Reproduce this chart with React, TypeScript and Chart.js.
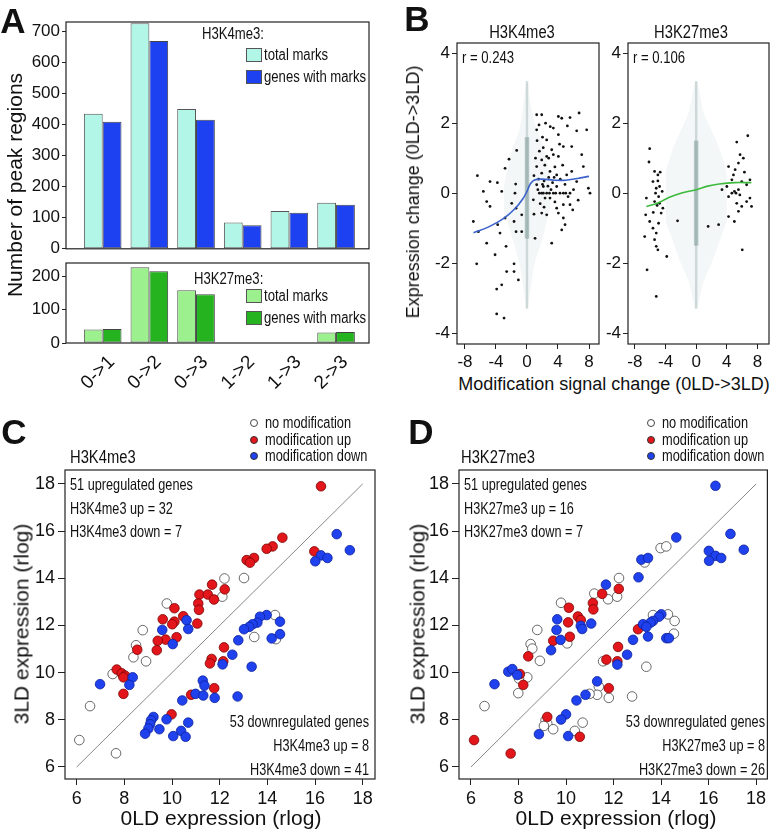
import React, { useEffect, useRef } from 'react';
import { Chart, registerables } from 'chart.js';

Chart.register(...registerables);

const REG = "'Liberation Sans', Arial, Helvetica, sans-serif";
Chart.defaults.font.family = REG;
Chart.defaults.color = '#111';

// ---------------- Panel A data ----------------
const A_CATEGORIES = ['0->1', '0->2', '0->3', '1->2', '1->3', '2->3'];
const A_K4_TOTAL = [435, 726, 450, 85, 122, 148];
const A_K4_GENES = [409, 669, 415, 76, 116, 142];
const A_K27_TOTAL = [41, 228, 159, 0, 0, 32];
const A_K27_GENES = [42, 216, 147, 0, 0, 33];
const A_K4_YTICKS = [0, 100, 200, 300, 400, 500, 600, 700];
const A_K27_YTICKS = [0, 100, 200];

// ---------------- Panel B data ----------------
const B_XTICKS = [-8, -4, 0, 4, 8];
const B_YTICKS = [-4, -2, 0, 2, 4];
const B_K4_POINTS = [
  [-6.4, 0.5], [-4.77, 0.33], [-3.82, 0.3], [-2.83, 0.71], [-2.32, 0.97], [-1.46, 0.26], [-1.33, 1.22],
  [-3.26, 0.05], [-5.63, 0.05], [1.25, 2.24], [1.9, 2.24], [1.25, 1.81], [1.55, 1.95], [2.54, 1.52],
  [4.05, 2.19], [4.48, 2.14], [5.55, 2.16], [6.72, 2.29], [7.7, 1.81], [6.41, 1.78], [5.21, 1.92],
  [3.4, 1.86], [4.05, 1.67], [3.19, 1.24], [4.69, 1.33], [5.77, 1.33], [7.06, 1.1], [7.27, 0.76],
  [4.05, 1.05], [1.9, 0.95], [2.54, 1.05], [1.25, 0.76], [1.9, 0.57], [2.97, 0.62], [3.83, 0.52],
  [5.12, 0.52], [5.77, 0.62], [6.41, 0.33], [7.92, 0.14], [2.11, 0.19], [1.25, 0.24], [3.83, 0.19],
  [4.69, 0.0], [1.9, 0.0], [2.54, 0.0], [3.4, 0.0], [4.26, 0.0], [5.55, 0.0], [-1.55, 0.0],
  [-6.92, -0.81], [-6.27, -1.1], [-5.2, -0.24], [-4.77, -0.38], [-5.2, -1.43], [-6.49, -2.02],
  [-4.12, -1.76], [-3.78, -0.9], [-3.48, -1.14], [-2.83, -0.71], [-2.7, -1.52], [-2.62, -2.24],
  [-3.91, -2.74], [-3.26, -2.62], [-3.91, -3.45], [-2.96, -3.57], [-1.67, -2.02], [-1.67, -2.24],
  [-1.11, -2.48], [-1.67, -0.81], [-1.41, -1.1], [-0.68, -0.62], [-0.68, -1.1], [-1.41, -0.43],
  [-1.97, -0.29], [0.82, -0.19], [2.11, 0.0], [2.33, -0.14], [2.97, -0.14], [3.83, -0.43],
  [4.69, -0.33], [5.55, -0.33], [1.9, -0.57], [2.54, -0.62], [4.05, -0.57], [4.69, -0.71],
  [4.48, -1.05], [4.91, -0.9], [3.19, -1.43], [1.04, -1.29], [5.9, -0.48], [8.13, 0.0],
  [1.5, 0.4], [2.2, 0.35], [2.8, 0.45], [3.3, 0.3], [3.6, 0.75], [2.3, 0.8], [1.6, 1.2], [2.0, 1.6],
  [2.8, 1.0], [3.1, 0.1], [1.4, 0.1], [2.7, 0.2], [3.6, -0.25], [4.3, 0.4], [4.9, 0.25], [5.3, -0.1],
  [6.0, 0.1], [1.7, -0.3], [2.2, -0.4], [1.3, 1.5], [2.4, 2.0], [3.0, 1.9], [4.6, 0.8], [0.9, 0.5],
  [0.9, -0.6], [6.6, -0.2], [1.6, 0.0], [2.9, 0.0], [3.7, 0.0], [5.0, 0.0], [2.0, 0.25], [3.5, 0.45],
  [1.1, 1.0], [2.1, 1.3], [3.4, 1.1], [4.2, 1.4],
];
const B_K4_FIT = [[-6.9, -1.13], [-5, -0.97], [-3, -0.72], [-1.5, -0.43], [-0.5, -0.15], [0, 0.05], [0.4, 0.25], [0.9, 0.37], [2, 0.4], [3.5, 0.37], [5, 0.37], [6.5, 0.42], [8, 0.48]];
const B_K4_CLOUD_X = [-3, -2, -1, -0.5, 0, 0.5, 1, 2, 3];
const B_K4_CLOUD_HI = [0.2, 1.2, 1.8, 2.5, 3.2, 2.5, 2.0, 1.4, 0.5];
const B_K4_CLOUD_LO = [-0.5, -1.2, -2.0, -2.7, -3.3, -2.7, -2.0, -1.3, -0.4];
const B_K4_COLUMN = [-3.3, 3.2];
const B_K4_CORE = [-1.3, 1.6];

const B_K27_POINTS = [
  [-6.07, 1.27], [-6.16, 0.89], [-5.43, 0.62], [-5.0, 0.52], [-5.64, 0.33], [-5.21, 0.14], [-4.78, 0.19],
  [-4.44, 0.05], [6.74, 1.64], [5.3, 1.46], [5.73, 1.1], [6.16, 1.0], [5.52, 0.86], [5.09, 0.67],
  [4.87, 0.52], [4.23, 0.76], [4.66, 0.38], [5.95, 0.33], [6.59, 0.24], [7.02, 0.38], [5.52, 0.1],
  [4.01, 0.19], [3.37, 0.1], [-6.5, -0.14], [-6.59, -0.62], [-6.07, -0.81], [-6.72, -1.24],
  [-5.64, -1.0], [-5.21, -1.14], [-5.43, -1.33], [-5.21, -1.52], [-5.0, -1.62], [-4.78, -0.29],
  [-4.35, -0.43], [-4.57, -0.57], [-5.43, -0.24], [-4.91, -0.86], [-6.41, -2.19], [-3.84, -1.81],
  [-5.21, -2.95], [-2.43, -0.79], [1.56, -0.95], [2.93, -0.9], [4.99, -0.81], [6.02, -1.62],
  [5.3, -0.29], [5.95, -0.38], [6.59, -0.24], [7.02, -0.14], [5.52, -0.52], [4.23, -0.1], [4.66, 0.0],
  [7.23, -0.38], [4.23, -0.67], [-5.3, 0.0], [-5.1, -0.35], [-4.9, -0.1], [-5.6, -0.55], [-5.0, 0.35],
  [-4.7, 0.6], [5.0, 0.05], [5.2, 0.0], [6.3, 0.6], [5.7, -0.05],
];
const B_K27_FIT = [[-6.5, -0.38], [-5, -0.28], [-3.5, -0.12], [-2, 0.0], [0, 0.1], [1.5, 0.2], [3, 0.26], [5, 0.3], [7.2, 0.3]];
const B_K27_CLOUD_X = [-4, -3, -2, -1, 0, 1, 2, 3, 4];
const B_K27_CLOUD_HI = [0.6, 1.3, 1.8, 2.3, 3.2, 2.3, 1.8, 1.3, 0.6];
const B_K27_CLOUD_LO = [-0.8, -1.4, -2.0, -2.5, -3.3, -2.5, -2.0, -1.4, -0.8];
const B_K27_COLUMN = [-3.3, 3.2];
const B_K27_CORE = [-1.5, 1.5];

// ---------------- Panels C / D data ----------------
const CD_TICKS = [6, 8, 10, 12, 14, 16, 18];
const DIAGONAL = [6, 18];

const C_NONE = [[12.2, 13.99], [13.02, 14.01], [12.11, 13.22], [9.78, 12.93], [8.77, 11.8], [8.49, 11.16], [8.38, 10.65], [8.91, 10.48], [7.51, 9.94], [6.56, 8.58], [6.11, 7.14], [7.65, 6.58], [14.32, 12.44], [13.45, 11.51], [14.36, 11.42]];
const C_UP = [[16.25, 17.9], [15.97, 15.14], [14.63, 15.72], [14.22, 15.35], [13.97, 15.25], [13.44, 14.86], [13.13, 14.77], [13.27, 14.66], [11.68, 13.73], [12.21, 13.53], [11.15, 13.31], [11.5, 13.31], [11.76, 13.1], [11.1, 12.93], [11.13, 12.66], [10.1, 12.73], [10.47, 12.39], [9.61, 12.26], [10.1, 12.16], [10.01, 12.05], [11.06, 12.08], [10.19, 11.5], [9.73, 11.4], [9.4, 11.35], [9.36, 10.95], [8.54, 10.97], [7.68, 10.13], [7.89, 9.97], [8.03, 9.87], [7.96, 9.8], [7.96, 9.1], [12.18, 11.07], [11.66, 10.58], [11.59, 10.39], [12.15, 10.48], [11.77, 9.34], [10.8, 9.06], [9.98, 8.23]];
const C_DOWN = [[16.91, 15.87], [17.46, 15.19], [16.25, 14.97], [16.52, 14.86], [16.01, 14.72], [10.61, 12.22], [10.68, 11.85], [9.59, 11.81], [10.03, 11.21], [8.35, 9.8], [8.21, 9.48], [6.98, 9.51], [13.97, 12.44], [13.69, 12.37], [13.58, 12.12], [13.38, 12.05], [13.24, 11.94], [13.02, 11.84], [14.53, 12.16], [14.53, 11.63], [14.18, 11.45], [12.78, 11.37], [12.53, 10.76], [12.12, 10.35], [13.34, 10.25], [11.29, 9.66], [11.36, 9.45], [10.99, 9.1], [11.31, 9.03], [11.79, 8.93], [12.75, 8.99], [10.43, 8.82], [9.77, 8.02], [9.22, 8.12], [9.12, 7.98], [9.08, 7.81], [9.01, 7.63], [8.87, 7.41], [9.47, 7.6], [10.68, 7.88], [10.38, 7.53], [10.05, 7.31], [10.57, 7.28]];

const D_NONE = [[12.23, 14.01], [11.19, 13.35], [11.77, 13.11], [12.15, 13.22], [9.79, 12.96], [8.79, 11.81], [10.05, 11.24], [8.51, 11.21], [8.58, 11.02], [8.9, 10.5], [8.37, 9.8], [8.02, 9.75], [7.99, 9.13], [6.57, 8.58], [13.98, 15.28], [14.22, 15.35], [13.31, 14.67], [13.66, 12.44], [14.29, 12.47], [14.57, 12.19], [14.54, 11.65], [11.56, 10.48], [13.38, 10.25], [11.38, 9.41], [11.31, 9.06], [11.8, 8.93], [12.78, 8.99], [10.99, 9.1], [9.14, 7.98], [9.21, 7.84], [9.07, 7.74], [9.46, 7.6], [10.7, 7.88], [10.37, 7.53]];
const D_UP = [[12.22, 13.55], [11.52, 13.34], [11.13, 12.95], [11.15, 12.68], [10.12, 12.75], [10.5, 12.38], [10.62, 12.23], [10.09, 12.13], [10.16, 11.52], [9.46, 11.35], [8.41, 10.69], [8.06, 9.94], [8.2, 9.48], [6.13, 7.14], [13.03, 11.84], [12.19, 11.09], [11.7, 10.55], [12.16, 10.48], [11.8, 9.34], [9.21, 8.12], [10.58, 7.28], [7.67, 6.57]];
const D_DOWN = [[16.29, 17.92], [11.68, 13.73], [13.05, 14.04], [9.63, 12.26], [9.6, 11.81], [10.62, 11.98], [10.68, 11.85], [11.06, 12.08], [9.77, 11.39], [9.37, 10.95], [7.57, 10.04], [7.74, 10.15], [7.95, 9.9], [6.99, 9.51], [13.17, 14.79], [13.45, 14.86], [14.64, 15.73], [16.92, 15.88], [17.48, 15.21], [16.01, 15.16], [16.29, 14.95], [16.53, 14.86], [16.02, 14.74], [14.01, 12.47], [13.91, 12.37], [13.66, 12.19], [13.56, 12.12], [13.24, 12.05], [13.38, 11.94], [13.45, 11.53], [14.22, 11.46], [14.33, 11.46], [12.82, 11.39], [12.57, 10.76], [12.16, 10.34], [11.31, 9.63], [10.82, 9.06], [10.44, 8.82], [10.0, 8.23], [9.79, 8.01], [8.86, 7.39], [10.09, 7.31]];

// ---------------- colours ----------------
const CYAN = '#b2f6e8';
const BLUE_BAR = '#1d40f0';
const LGREEN = '#9cf08e';
const DGREEN = '#25b320';
const RED_PT = '#e3161b';
const BLUE_PT = '#1f42ee';

// ---------------- helpers ----------------
type Box = { l: number; t: number; r: number; b: number };

const framePlugin = {
  id: 'frameBox',
  afterDraw(chart: any) {
    const { ctx, chartArea: a } = chart;
    ctx.save();
    ctx.strokeStyle = '#222';
    ctx.lineWidth = 1.2;
    ctx.strokeRect(a.left, a.top, a.right - a.left, a.bottom - a.top);
    ctx.restore();
  },
};

function axis(o: {
  min: number; max: number; ticks: number[]; size: number; horizontal: boolean;
  tickLen: number; labelPad: number; font: number; labels?: (v: number) => string;
  showLabels?: boolean; drawTicks?: boolean; rotation?: number; labelOffset?: number;
}) {
  return {
    type: 'linear',
    min: o.min,
    max: o.max,
    offset: false,
    afterBuildTicks: (s: any) => { s.ticks = o.ticks.map((v) => ({ value: v })); },
    afterFit: (s: any) => { if (o.horizontal) s.height = o.size; else s.width = o.size; },
    grid: {
      display: o.drawTicks !== false, drawOnChartArea: false, drawTicks: o.drawTicks !== false,
      tickLength: o.tickLen, color: '#222', lineWidth: 1, offset: false,
    },
    border: { display: false },
    ticks: {
      display: o.showLabels !== false, padding: o.labelPad, color: '#111', autoSkip: false,
      font: { family: REG, size: o.font },
      maxRotation: o.rotation ?? 0, minRotation: o.rotation ?? 0, labelOffset: o.labelOffset ?? 0,
      callback: (v: number) => (o.labels ? o.labels(v) : String(v)),
    },
  };
}

function baseOptions(padT: number, padR: number) {
  return {
    responsive: false,
    animation: false,
    events: [],
    layout: { padding: { left: 0, top: padT, right: padR, bottom: 0 } },
    plugins: { legend: { display: false }, tooltip: { enabled: false } },
  };
}

function PlotCanvas({ box, pad, build }: { box: Box; pad: Box; build: () => any }) {
  const ref = useRef<HTMLCanvasElement | null>(null);
  useEffect(() => {
    const chart = new Chart(ref.current as HTMLCanvasElement, build());
    return () => chart.destroy();
  }, []);
  const w = box.r - box.l + pad.l + pad.r;
  const h = box.b - box.t + pad.t + pad.b;
  return (
    <canvas
      ref={ref}
      width={w}
      height={h}
      style={{ position: 'absolute', left: box.l - pad.l, top: box.t - pad.t, width: w, height: h }}
    />
  );
}

type TxtProps = { x: number; y: number; s: number; t: string; a?: 'l' | 'c' | 'r'; rot?: number; b?: boolean; k?: number };
function Txt({ x, y, s, t, a = 'c', rot = 0, b = false, k = 0.82 }: TxtProps) {
  const tx = a === 'l' ? '0' : a === 'r' ? '-100%' : '-50%';
  const origin = a === 'l' ? 'left center' : a === 'r' ? 'right center' : 'center';
  return (
    <div
      style={{
        position: 'absolute', left: x, top: y,
        transform: `translate(${tx},-50%)${rot ? ` rotate(${rot}deg)` : ''}${k !== 1 ? ` scaleX(${k})` : ''}`,
        transformOrigin: origin,
        fontSize: s, fontFamily: REG, fontWeight: b ? 700 : 400, lineHeight: 1,
        whiteSpace: 'nowrap', color: '#111',
      }}
    >
      {t}
    </div>
  );
}

function Swatch({ x, y, w, h, c }: { x: number; y: number; w: number; h: number; c: string }) {
  return <div style={{ position: 'absolute', left: x, top: y, width: w, height: h, background: c, border: '1px solid #555', boxSizing: 'border-box' }} />;
}

function Dot({ x, y, c, open }: { x: number; y: number; c: string; open?: boolean }) {
  return (
    <div
      style={{
        position: 'absolute', left: x - 4, top: y - 4, width: 8, height: 8, borderRadius: '50%',
        background: open ? '#fff' : c, border: `1px solid ${open ? '#444' : '#333'}`, boxSizing: 'border-box',
      }}
    />
  );
}

const pts = (arr: number[][]) => arr.map(([x, y]) => ({ x, y }));

// ---------------- chart builders ----------------
const A_UP_BOX: Box = { l: 66, t: 22, r: 369, b: 258 };
const A_UP_PAD: Box = { l: 60, t: 16, r: 4, b: 3 };
const A_LO_BOX: Box = { l: 66, t: 263, r: 369, b: 343 };
const A_LO_PAD: Box = { l: 60, t: 16, r: 6, b: 48 };

function barConfig(total: number[], genes: number[], cTotal: string, cGenes: string, yMax: number, yTicks: number[], pad: Box, showX: boolean) {
  const bw = (c: any) => (c.raw && c.raw.y === 0 ? 0 : 1);
  return {
    type: 'bar',
    data: {
      datasets: [
        { data: total.map((v, i) => ({ x: i, y: v })), backgroundColor: cTotal, borderColor: '#555', borderWidth: bw, categoryPercentage: 0.806, barPercentage: 1, borderSkipped: false },
        { data: genes.map((v, i) => ({ x: i, y: v })), backgroundColor: cGenes, borderColor: '#444', borderWidth: bw, categoryPercentage: 0.806, barPercentage: 1, borderSkipped: false },
      ],
    },
    options: {
      ...baseOptions(pad.t, pad.r),
      scales: {
        x: axis({
          min: -0.786, max: 5.706, ticks: [0, 1, 2, 3, 4, 5], size: pad.b, horizontal: true,
          tickLen: 0, labelPad: 8, font: 19, labels: (v) => A_CATEGORIES[v] ?? '',
          showLabels: showX, drawTicks: false, rotation: 45, labelOffset: 9,
        }),
        y: axis({ min: 0, max: yMax, ticks: yTicks, size: pad.l, horizontal: false, tickLen: 4, labelPad: 2, font: 17 }),
      },
    },
    plugins: [framePlugin],
  };
}

const B_L_BOX: Box = { l: 457, t: 43, r: 599, b: 344 };
const B_L_PAD: Box = { l: 40, t: 18, r: 6, b: 30 };
const B_R_BOX: Box = { l: 628, t: 43, r: 771, b: 344 };
const B_R_PAD: Box = { l: 30, t: 18, r: 2, b: 30 };

function bConfig(points: number[][], fit: number[][], fitColor: string, cx: number[], hi: number[], lo: number[], col: number[], core: number[], xr: [number, number], pad: Box) {
  const line = (data: any[], color: string, width: number, extra: any = {}) => ({
    data, showLine: true, borderColor: color, borderWidth: width, pointRadius: 0, fill: false, ...extra,
  });
  return {
    type: 'scatter',
    data: {
      datasets: [
        line(pts(fit), fitColor, 1.6, { tension: 0.4 }),
        { data: pts(points), pointRadius: 1.4, pointBackgroundColor: '#111', pointBorderWidth: 0 },
        line([{ x: 0, y: core[0] }, { x: 0, y: core[1] }], 'rgba(120,150,150,0.5)', 4.5),
        line([{ x: 0, y: col[0] }, { x: 0, y: col[1] }], 'rgba(150,170,170,0.4)', 2.5),
        line(cx.map((x, i) => ({ x, y: hi[i] })), 'rgba(0,0,0,0)', 0, { tension: 0.3 }),
        line(cx.map((x, i) => ({ x, y: lo[i] })), 'rgba(0,0,0,0)', 0, { tension: 0.3, fill: '-1', backgroundColor: 'rgba(180,195,195,0.14)' }),
      ],
    },
    options: {
      ...baseOptions(pad.t, pad.r),
      scales: {
        x: axis({ min: xr[0], max: xr[1], ticks: B_XTICKS, size: pad.b, horizontal: true, tickLen: 5, labelPad: 3, font: 17 }),
        y: axis({ min: -4.31, max: 4.29, ticks: B_YTICKS, size: pad.l, horizontal: false, tickLen: 5, labelPad: 2, font: 17 }),
      },
    },
    plugins: [framePlugin],
  };
}

const C_BOX: Box = { l: 65, t: 470, r: 375, b: 779 };
const C_PAD: Box = { l: 55, t: 18, r: 12, b: 32 };
const D_BOX: Box = { l: 459, t: 470, r: 768, b: 779 };
const D_PAD: Box = { l: 45, t: 18, r: 5, b: 32 };

function cdConfig(none: number[][], up: number[][], down: number[][], xr: [number, number], pad: Box) {
  const ptSet = (arr: number[][], bg: string, border: string) => ({
    data: pts(arr), pointRadius: 4.8, pointBackgroundColor: bg, pointBorderColor: border, pointBorderWidth: 0.8,
  });
  return {
    type: 'scatter',
    data: {
      datasets: [
        ptSet(down, BLUE_PT, '#0c1f9a'),
        ptSet(up, RED_PT, '#7a0505'),
        ptSet(none, '#ffffff', '#444'),
        { data: [{ x: DIAGONAL[0], y: DIAGONAL[0] }, { x: DIAGONAL[1], y: DIAGONAL[1] }], showLine: true, borderColor: '#888', borderWidth: 1, pointRadius: 0 },
      ],
    },
    options: {
      ...baseOptions(pad.t, pad.r),
      scales: {
        x: axis({ min: xr[0], max: xr[1], ticks: CD_TICKS, size: pad.b, horizontal: true, tickLen: 6, labelPad: 3, font: 18 }),
        y: axis({ min: 5.49, max: 18.59, ticks: CD_TICKS, size: pad.l, horizontal: false, tickLen: 7, labelPad: 3, font: 18 }),
      },
    },
    plugins: [framePlugin],
  };
}

const IN_S = 16.5;
const IN_K = 0.77;
const LG_S = 16;
const LG_K = 0.8;

export default function App() {
  return (
    <div style={{ position: 'absolute', left: 0, top: 0, width: 773, height: 831, overflow: 'hidden', background: '#fff' }}>
      {/* Panel A */}
      <PlotCanvas box={A_UP_BOX} pad={A_UP_PAD} build={() => barConfig(A_K4_TOTAL, A_K4_GENES, CYAN, BLUE_BAR, 730, A_K4_YTICKS, A_UP_PAD, false)} />
      <PlotCanvas box={A_LO_BOX} pad={A_LO_PAD} build={() => barConfig(A_K27_TOTAL, A_K27_GENES, LGREEN, DGREEN, 241, A_K27_YTICKS, A_LO_PAD, true)} />
      <Txt x={13} y={20} s={35} t="A" b k={1} />
      <Txt x={14} y={185} s={21} t="Number of peak regions" rot={-90} k={1} />
      <Txt x={202} y={34} s={16} t="H3K4me3:" a="l" />
      <Swatch x={246} y={48} w={16} h={14} c={CYAN} />
      <Txt x={264} y={55} s={16} t="total marks" a="l" />
      <Swatch x={246} y={70} w={16} h={14} c={BLUE_BAR} />
      <Txt x={264} y={77} s={16} t="genes with marks" a="l" />
      <Txt x={194} y={279} s={16} t="H3K27me3:" a="l" />
      <Swatch x={246} y={289} w={16} h={14} c={LGREEN} />
      <Txt x={264} y={296} s={16} t="total marks" a="l" />
      <Swatch x={246} y={311} w={16} h={14} c={DGREEN} />
      <Txt x={264} y={318} s={16} t="genes with marks" a="l" />

      {/* Panel B */}
      <PlotCanvas box={B_L_BOX} pad={B_L_PAD} build={() => bConfig(B_K4_POINTS, B_K4_FIT, '#3a62cc', B_K4_CLOUD_X, B_K4_CLOUD_HI, B_K4_CLOUD_LO, B_K4_COLUMN, B_K4_CORE, [-9.03, 9.29], B_L_PAD)} />
      <PlotCanvas box={B_R_BOX} pad={B_R_PAD} build={() => bConfig(B_K27_POINTS, B_K27_FIT, '#3dba3d', B_K27_CLOUD_X, B_K27_CLOUD_HI, B_K27_CLOUD_LO, B_K27_COLUMN, B_K27_CORE, [-8.9, 9.51], B_R_PAD)} />
      <Txt x={417} y={18} s={35} t="B" b k={1} />
      <Txt x={522} y={32} s={18} t="H3K4me3" />
      <Txt x={691} y={32} s={18} t="H3K27me3" />
      <Txt x={462} y={58} s={16} t="r = 0.243" a="l" />
      <Txt x={633} y={58} s={16} t="r = 0.106" a="l" />
      <Txt x={413} y={192} s={18} t="Expression change (0LD->3LD)" rot={-90} k={1} />
      <Txt x={614} y={384} s={18} t="Modification signal change (0LD->3LD)" k={1} />

      {/* Panel C */}
      <PlotCanvas box={C_BOX} pad={C_PAD} build={() => cdConfig(C_NONE, C_UP, C_DOWN, [5.509, 18.516], C_PAD)} />
      <Txt x={14} y={431} s={35} t="C" b k={1} />
      <Txt x={70} y={457} s={18} t="H3K4me3" a="l" />
      <Dot x={254} y={423} c="#fff" open />
      <Txt x={265} y={423} s={LG_S} k={LG_K} t="no modification" a="l" />
      <Dot x={254} y={440} c={RED_PT} />
      <Txt x={265} y={440} s={LG_S} k={LG_K} t="modification up" a="l" />
      <Dot x={254} y={456} c={BLUE_PT} />
      <Txt x={265} y={456} s={LG_S} k={LG_K} t="modification down" a="l" />
      <Txt x={70} y={484} s={IN_S} k={IN_K} t="51 upregulated genes" a="l" />
      <Txt x={70} y={508} s={IN_S} k={IN_K} t="H3K4me3 up = 32" a="l" />
      <Txt x={70} y={531} s={IN_S} k={IN_K} t="H3K4me3 down = 7" a="l" />
      <Txt x={369} y={721} s={IN_S} k={IN_K} t="53 downregulated genes" a="r" />
      <Txt x={369} y={745} s={IN_S} k={IN_K} t="H3K4me3 up = 8" a="r" />
      <Txt x={369} y={769} s={IN_S} k={IN_K} t="H3K4me3 down = 41" a="r" />
      <Txt x={21} y={624} s={21} t="3LD expression (rlog)" rot={-90} k={1} />
      <Txt x={221} y={817} s={21} t="0LD expression (rlog)" k={1} />

      {/* Panel D */}
      <PlotCanvas box={D_BOX} pad={D_PAD} build={() => cdConfig(D_NONE, D_UP, D_DOWN, [5.496, 18.475], D_PAD)} />
      <Txt x={421} y={431} s={35} t="D" b k={1} />
      <Txt x={461} y={457} s={18} t="H3K27me3" a="l" />
      <Dot x={651} y={423} c="#fff" open />
      <Txt x={662} y={423} s={LG_S} k={LG_K} t="no modification" a="l" />
      <Dot x={651} y={440} c={RED_PT} />
      <Txt x={662} y={440} s={LG_S} k={LG_K} t="modification up" a="l" />
      <Dot x={651} y={456} c={BLUE_PT} />
      <Txt x={662} y={456} s={LG_S} k={LG_K} t="modification down" a="l" />
      <Txt x={464} y={484} s={IN_S} k={IN_K} t="51 upregulated genes" a="l" />
      <Txt x={464} y={508} s={IN_S} k={IN_K} t="H3K27me3 up = 16" a="l" />
      <Txt x={464} y={531} s={IN_S} k={IN_K} t="H3K27me3 down = 7" a="l" />
      <Txt x={765} y={721} s={IN_S} k={IN_K} t="53 downregulated genes" a="r" />
      <Txt x={765} y={745} s={IN_S} k={IN_K} t="H3K27me3 up = 8" a="r" />
      <Txt x={765} y={769} s={IN_S} k={IN_K} t="H3K27me3 down = 26" a="r" />
      <Txt x={417} y={624} s={21} t="3LD expression (rlog)" rot={-90} k={1} />
      <Txt x={616} y={817} s={21} t="0LD expression (rlog)" k={1} />
    </div>
  );
}
